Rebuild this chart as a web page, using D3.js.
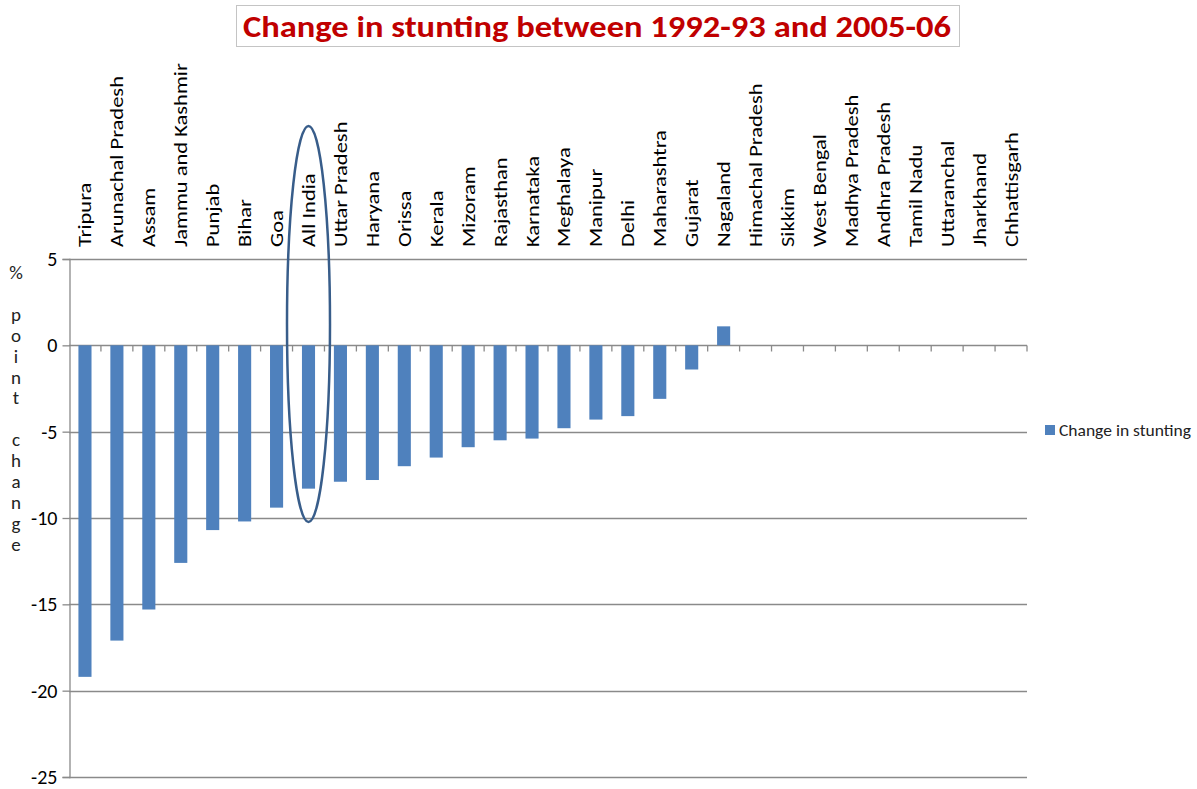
<!DOCTYPE html>
<html>
<head>
<meta charset="utf-8">
<script src="https://cdn.jsdelivr.net/npm/d3@7"></script>
<style>
  body { margin: 0; background: #fff; }
  svg { display: block; }
  text { font-family: Calibri, Carlito, 'Open Sans', 'Liberation Sans', sans-serif; fill: #000; }
</style>
</head>
<body>
<div id="chart"></div>
<script>
var states = [
  'Tripura', 'Arunachal Pradesh', 'Assam', 'Jammu and Kashmir', 'Punjab', 'Bihar', 'Goa',
  'All India', 'Uttar Pradesh', 'Haryana', 'Orissa', 'Kerala', 'Mizoram', 'Rajasthan',
  'Karnataka', 'Meghalaya', 'Manipur', 'Delhi', 'Maharashtra', 'Gujarat', 'Nagaland',
  'Himachal Pradesh', 'Sikkim', 'West Bengal', 'Madhya Pradesh', 'Andhra Pradesh',
  'Tamil Nadu', 'Uttaranchal', 'Jharkhand', 'Chhattisgarh'
]
// % point change, no value for the last nine states
var change = [
  -19.2, -17.1, -15.3, -12.6, -10.7, -10.2, -9.4,
  -8.3, -7.9, -7.8, -7.0, -6.5, -5.9, -5.5,
  -5.4, -4.8, -4.3, -4.1, -3.1, -1.4, 1.1,
  null, null, null, null, null, null, null, null, null
]
var yTicks = [5, 0, -5, -10, -15, -20, -25]
var title = 'Change in stunting between 1992-93 and 2005-06'
var seriesName = 'Change in stunting'
var yTitle = '% point change'
var highlight = 'All India'

var width = 1197
var height = 789
var margin = {top: 259, right: 170, bottom: 12, left: 69}
var barColor = '#4f81bd'
var gridColor = '#8a8a8a'

var svg = d3.select('#chart').append('svg')
  .attr('width', width)
  .attr('height', height)

var x = d3.scaleBand()
  .domain(states)
  .range([margin.left, width - margin.right])
  .paddingInner(0.59)
  .paddingOuter(0.295)

var y = d3.scaleLinear()
  .domain([-25, 5])
  .range([height - margin.bottom, margin.top])

drawTitle()
drawGrid()
drawBars()
drawXAxis()
drawYAxis()
drawHighlight()
drawLegend()

function drawTitle() {
  var g = svg.append('g')
  g.append('rect')
    .attr('x', 236.5)
    .attr('y', 5.5)
    .attr('width', 723)
    .attr('height', 41)
    .attr('fill', '#fff')
    .attr('stroke', '#c4c4c4')
  g.append('text')
    .attr('x', 597)
    .attr('y', 37)
    .attr('text-anchor', 'middle')
    .attr('textLength', 708)
    .attr('lengthAdjust', 'spacingAndGlyphs')
    .style('font-size', '30px')
    .style('font-weight', 'bold')
    .style('fill', '#c00000')
    .text(title)
}

function drawGrid() {
  svg.append('g')
    .selectAll('line')
    .data(yTicks)
    .enter()
    .append('line')
    .attr('x1', margin.left)
    .attr('x2', width - margin.right)
    .attr('y1', function(d) { return Math.round(y(d)) + 0.5 })
    .attr('y2', function(d) { return Math.round(y(d)) + 0.5 })
    .attr('stroke', gridColor)
    .attr('stroke-width', 1.3)
}

function drawBars() {
  var data = states.map(function(s, i) {
    return {state: s, value: change[i]}
  }).filter(function(d) { return d.value != null })

  svg.append('g')
    .selectAll('rect')
    .data(data)
    .enter()
    .append('rect')
    .attr('x', function(d) { return x(d.state) })
    .attr('width', x.bandwidth())
    .attr('y', function(d) { return y(Math.max(0, d.value)) })
    .attr('height', function(d) { return Math.abs(y(d.value) - y(0)) })
    .attr('fill', barColor)
}

function drawXAxis() {
  var step = x.step()
  var bounds = d3.range(states.length + 1).map(function(i) {
    return margin.left + i * step
  })
  var y0 = Math.round(y(0)) + 0.5

  svg.append('g')
    .selectAll('line')
    .data(bounds.slice(1))
    .enter()
    .append('line')
    .attr('x1', function(d) { return d })
    .attr('x2', function(d) { return d })
    .attr('y1', y0)
    .attr('y2', y0 + 6)
    .attr('stroke', gridColor)
    .attr('stroke-width', 1.3)

  // state names, written upwards above the plot (stretched like the original)
  svg.append('g')
    .selectAll('text')
    .data(states)
    .enter()
    .append('text')
    .attr('transform', function(d) {
      return 'translate(' + (x(d) + x.bandwidth() / 2) + ',247)rotate(-90)scale(1.25,1)'
    })
    .attr('dy', '0.36em')
    .style('font-size', '18px')
    .text(function(d) { return d })
}

function drawYAxis() {
  var axis = d3.axisLeft(y)
    .tickValues(yTicks)
    .tickSize(7)
    .tickPadding(5)
    .tickFormat(function(d) { return String(d) })

  var g = svg.append('g')
    .attr('transform', 'translate(' + (margin.left + 0.5) + ',0)')
    .call(axis)

  g.select('.domain').attr('stroke', gridColor).attr('stroke-width', 1.3)
  g.selectAll('.tick line').attr('stroke', gridColor).attr('stroke-width', 1.3)
  g.selectAll('.tick text')
    .style('font-size', '20px')
    .style('font-family', "Calibri, Carlito, 'Open Sans', sans-serif")
    .attr('fill', '#000')

  // stacked letters for the axis title
  svg.append('g')
    .selectAll('text')
    .data(yTitle.split(''))
    .enter()
    .append('text')
    .attr('x', 16)
    .attr('y', function(d, i) { return 279 + i * 20.9 })
    .attr('text-anchor', 'middle')
    .style('font-size', '19px')
    .style('fill', '#222')
    .text(function(d) { return d })
}

function drawHighlight() {
  var cx = x(highlight) + x.bandwidth() / 2
  svg.append('ellipse')
    .attr('cx', cx)
    .attr('cy', 324)
    .attr('rx', 21.5)
    .attr('ry', 198)
    .attr('fill', 'none')
    .attr('stroke', '#385d8a')
    .attr('stroke-width', 2.5)
}

function drawLegend() {
  var g = svg.append('g')
    .attr('transform', 'translate(1045,425)')
  g.append('rect')
    .attr('width', 10)
    .attr('height', 10)
    .attr('fill', barColor)
  g.append('text')
    .attr('x', 14)
    .attr('y', 10.5)
    .attr('textLength', 132)
    .attr('lengthAdjust', 'spacingAndGlyphs')
    .style('font-size', '16px')
    .style('fill', '#222')
    .text(seriesName)
}
</script>
</body>
</html>
